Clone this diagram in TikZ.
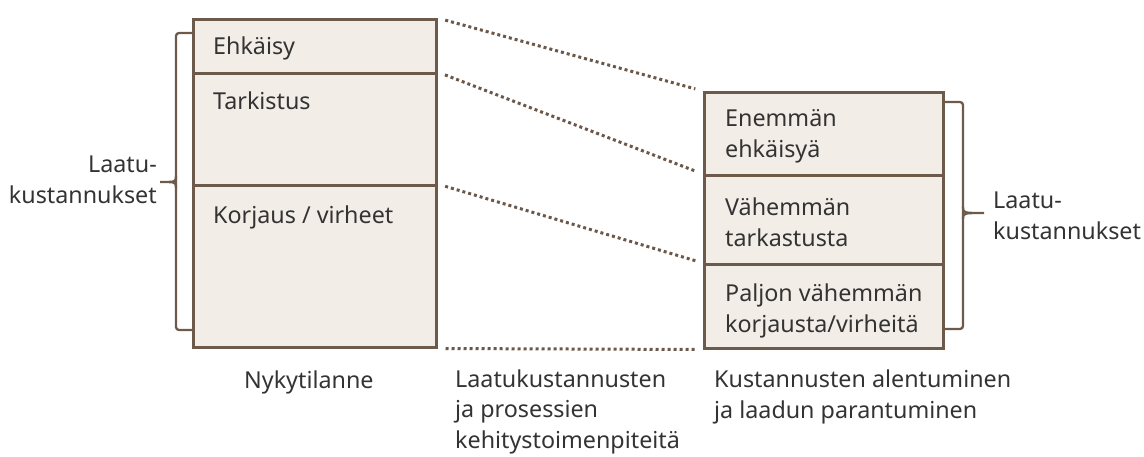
\documentclass[tikz,border=0pt]{standalone}
\usepackage{fontspec}
\setmainfont{Noto Sans}
\begin{document}
\definecolor{cellfill}{HTML}{F2EDE7}
\definecolor{cellline}{HTML}{6E5A4A}
\definecolor{dotcol}{HTML}{6A584A}
\definecolor{txtcol}{HTML}{333333}
\begin{tikzpicture}[x=1pt,y=-1pt,
  cell/.style={draw=cellline, fill=cellfill, line width=2.5pt, rectangle,
    inner sep=0pt, anchor=north west},
  txt/.style={text=txtcol, font=\fontsize{23.3}{30.5}\selectfont, inner sep=0pt,
    align=left, anchor=base west},
  dotline/.style={draw=dotcol, line width=3pt, dash pattern=on 3pt off 3pt,
    shorten <=8pt, shorten >=8pt},
  bracket/.style={draw=cellline, line width=2.3pt, rounded corners=3pt}]
\useasboundingbox (0,0) rectangle (1144,456);

% current situation: three stacked cells
\node[cell, minimum width=243pt, minimum height=54pt]  (l1) at (192,18)  {};
\node[cell, minimum width=243pt, minimum height=112pt] (l2) at (192,72)  {};
\node[cell, minimum width=243pt, minimum height=162pt] (l3) at (192,184) {};

% improved situation: three stacked cells
\node[cell, minimum width=239pt, minimum height=83pt] (r1) at (703,91)  {};
\node[cell, minimum width=239pt, minimum height=89pt] (r2) at (703,174) {};
\node[cell, minimum width=239pt, minimum height=84pt] (r3) at (703,263) {};

% cell texts (multi-line nodes sit on the baseline of their last line)
\node[txt] (t1) at (213,54)  {Ehkäisy};
\node[txt] (t2) at (213,109) {Tarkistus};
\node[txt] (t3) at (213,223) {Korjaus / virheet};
\node[txt] (u1) at (725,157) {Enemmän\\ehkäisyä};
\node[txt] (u2) at (725,246) {Vähemmän\\tarkastusta};
\node[txt] (u3) at (725,332) {Paljon vähemmän\\korjausta/virheitä};

% dotted guides between the two stacks
\draw[dotline] (l1.north east) -- (r1.north west);
\draw[dotline] (l2.north east) -- (r2.north west);
\draw[dotline] (l3.north east) -- (r3.north west);
\draw[dotline] (l3.south east) -- (r3.south west);

% left bracket
\coordinate (lb1) at (192,33);
\coordinate (lb2) at (192,330);
\coordinate (ltip) at (160,182);
\draw[bracket] (lb1) -- (176,33) -- (176,330) -- (lb2);
\draw[draw=cellline, line width=2.3pt] (176,176) .. controls (176,182) .. (ltip)
  .. controls (176,182) .. (176,188);
\node[txt, align=right, anchor=base east] (lq) at (157,203) {Laatu-\\kustannukset};

% right bracket
\coordinate (rb1) at (942,102);
\coordinate (rb2) at (942,329);
\coordinate (rtip) at (984,213);
\draw[bracket] (rb1) -- (963,102) -- (963,329) -- (rb2);
\draw[draw=cellline, line width=2.3pt] (963,207) .. controls (963,213) .. (rtip)
  .. controls (963,213) .. (963,219);
\node[txt] (rq) at (993,239) {Laatu-\\kustannukset};

% captions
\node[txt] (c1) at (244,388) {Nykytilanne};
\node[txt] (c2) at (455,448) {Laatukustannusten\\ja prosessien\\kehitystoimenpiteitä};
\node[txt] (c3) at (714,418) {Kustannusten alentuminen\\ja laadun parantuminen};
\end{tikzpicture}
\end{document}
